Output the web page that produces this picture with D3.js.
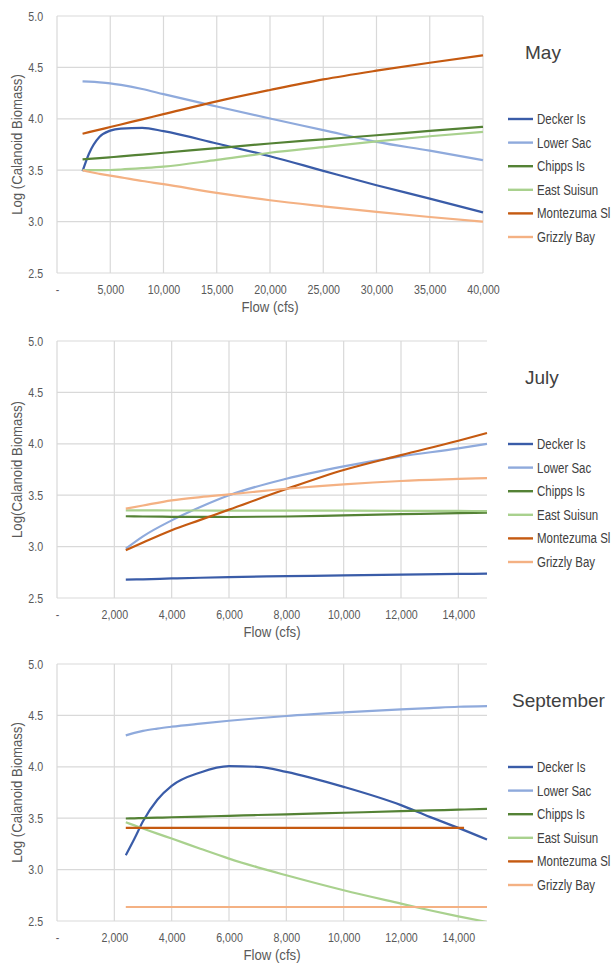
<!DOCTYPE html>
<html>
<head>
<meta charset="utf-8">
<script src="https://cdn.jsdelivr.net/npm/d3@7"></script>
<style>
  body { margin: 0; background: #fff; }
  svg text { font-family: "Liberation Sans", Arial, sans-serif; }
</style>
</head>
<body>
<div id="chart"></div>
<script>
// series names and colours (legend order)
var seriesNames = ["Decker Is", "Lower Sac", "Chipps Is", "East Suisun", "Montezuma Sl", "Grizzly Bay"];
var seriesColors = ["#3a5ca8", "#8faadc", "#548235", "#a9d18e", "#c55a11", "#f4b183"];

var yTicks = [2.5, 3.0, 3.5, 4.0, 4.5, 5.0];

// ---- May ----
var mayTicks = [0, 5000, 10000, 15000, 20000, 25000, 30000, 35000, 40000];
var mayFlow = [2400, 3000, 4000, 5000, 6000, 8000, 10000, 15000, 20000, 25000, 30000, 35000, 40000];
var mayDecker = [3.49, 3.66, 3.825, 3.885, 3.905, 3.912, 3.88, 3.76, 3.636, 3.494, 3.354, 3.224, 3.09];
var mayLowerSac = [4.365, 4.362, 4.355, 4.345, 4.33, 4.29, 4.24, 4.12, 4.003, 3.89, 3.776, 3.69, 3.597];
var mayChipps = [3.605, 3.61, 3.618, 3.626, 3.634, 3.652, 3.67, 3.715, 3.76, 3.8, 3.84, 3.882, 3.922];
var mayEastSuisun = [3.5, 3.5, 3.5, 3.502, 3.507, 3.52, 3.535, 3.6, 3.67, 3.725, 3.78, 3.83, 3.872];
var mayMontezuma = [3.855, 3.87, 3.895, 3.92, 3.945, 3.995, 4.045, 4.17, 4.28, 4.383, 4.468, 4.545, 4.617];
var mayGrizzly = [3.5, 3.485, 3.465, 3.447, 3.43, 3.395, 3.364, 3.279, 3.208, 3.149, 3.094, 3.045, 3.0];

// ---- July ----
var julTicks = [0, 2000, 4000, 6000, 8000, 10000, 12000, 14000];
var julFlow = [2400, 3000, 4000, 5000, 6000, 8000, 10000, 12000, 14000, 15000];
var julDecker = [2.678, 2.682, 2.69, 2.697, 2.704, 2.712, 2.72, 2.727, 2.734, 2.737];
var julLowerSac = [2.98, 3.1, 3.255, 3.385, 3.499, 3.66, 3.78, 3.878, 3.955, 4.0];
var julChipps = [3.295, 3.293, 3.29, 3.289, 3.288, 3.293, 3.304, 3.315, 3.326, 3.33];
var julEastSuisun = [3.352, 3.352, 3.351, 3.351, 3.35, 3.35, 3.349, 3.348, 3.347, 3.346];
var julMontezuma = [2.964, 3.04, 3.16, 3.26, 3.36, 3.56, 3.745, 3.89, 4.03, 4.105];
var julGrizzly = [3.369, 3.4, 3.45, 3.482, 3.508, 3.563, 3.606, 3.638, 3.658, 3.667];

// ---- September ----
var sepTicks = [0, 2000, 4000, 6000, 8000, 10000, 12000, 14000];
var sepFlow = [2400, 2700, 3000, 3500, 4000, 5000, 6000, 7000, 8000, 10000, 12000, 13000, 14000, 15000];
var sepDecker = [3.14, 3.3, 3.47, 3.68, 3.815, 3.945, 4.006, 4.0, 3.951, 3.805, 3.627, 3.513, 3.406, 3.292];
var sepLowerSac = [4.305, 4.33, 4.35, 4.372, 4.39, 4.42, 4.448, 4.472, 4.494, 4.529, 4.558, 4.571, 4.584, 4.591];
var sepChipps = [3.497, 3.499, 3.501, 3.505, 3.509, 3.516, 3.523, 3.531, 3.538, 3.553, 3.568, 3.576, 3.583, 3.591];
var sepEastSuisun = [3.46, 3.43, 3.4, 3.35, 3.302, 3.203, 3.107, 3.022, 2.945, 2.799, 2.669, 2.605, 2.545, 2.49];
var sepMontezumaFlow = [2400, 14200];
var sepMontezuma = [3.406, 3.406];
var sepGrizzlyFlow = [2400, 15000];
var sepGrizzly = [2.636, 2.636];

var panels = [
  { title: "May", titleX: 525, yLabel: "Log  (Calanoid Biomass)", top: 16, right: 483, xMax: 40000, ticks: mayTicks,
    series: [[mayFlow, mayDecker], [mayFlow, mayLowerSac], [mayFlow, mayChipps], [mayFlow, mayEastSuisun], [mayFlow, mayMontezuma], [mayFlow, mayGrizzly]] },
  { title: "July", titleX: 525, yLabel: "Log(Calanoid Biomass)", top: 341, right: 487, xMax: 15000, ticks: julTicks,
    series: [[julFlow, julDecker], [julFlow, julLowerSac], [julFlow, julChipps], [julFlow, julEastSuisun], [julFlow, julMontezuma], [julFlow, julGrizzly]] },
  { title: "September", titleX: 512, yLabel: "Log  (Calanoid Biomass)", top: 664, right: 487, xMax: 15000, ticks: sepTicks,
    series: [[sepFlow, sepDecker], [sepFlow, sepLowerSac], [sepFlow, sepChipps], [sepFlow, sepEastSuisun], [sepMontezumaFlow, sepMontezuma], [sepGrizzlyFlow, sepGrizzly]] }
];

var svgWidth = 612, svgHeight = 965;
var plotLeft = 57, plotHeight = 257;
var gridColor = "#d9d9d9";
// squeeze text horizontally to mimic the narrow office font
var narrow = 0.82;

var svg = d3.select("#chart").append("svg")
  .attr("width", svgWidth)
  .attr("height", svgHeight);

var fmt = d3.format(",");

panels.forEach(function(p, i) {
  var bottom = p.top + plotHeight;
  var x = d3.scaleLinear().domain([0, p.xMax]).range([plotLeft, p.right]);
  var y = d3.scaleLinear().domain([2.5, 5.0]).range([bottom, p.top]);

  var g = svg.append("g");

  // gridlines
  g.append("g").selectAll("line")
    .data(yTicks)
    .enter().append("line")
    .attr("x1", plotLeft).attr("x2", p.right)
    .attr("y1", d => y(d)).attr("y2", d => y(d))
    .attr("stroke", gridColor).attr("stroke-width", 1.2);

  g.append("g").selectAll("line")
    .data(p.ticks)
    .enter().append("line")
    .attr("x1", d => x(d)).attr("x2", d => x(d))
    .attr("y1", p.top).attr("y2", bottom)
    .attr("stroke", gridColor).attr("stroke-width", 1.2);

  // axes (labels only, lines come from the grid)
  var bottomAxis = d3.axisBottom(x).tickValues(p.ticks).tickSize(0).tickPadding(12)
    .tickFormat(d => d === 0 ? "-" : fmt(d));
  var leftAxis = d3.axisLeft(y).tickValues(yTicks).tickSize(0).tickPadding(17)
    .tickFormat(d3.format(".1f"));

  var xa = g.append("g").attr("transform", `translate(0, ${bottom})`).call(bottomAxis);
  var ya = g.append("g").attr("transform", `translate(${plotLeft}, 0)`).call(leftAxis);
  [xa, ya].forEach(function(a) {
    a.select(".domain").remove();
    a.selectAll("text")
      .attr("font-size", "13px")
      .attr("fill", "#595959")
      .attr("transform", `scale(${narrow},1)`)
      .style("font-family", "'Liberation Sans', Arial, sans-serif");
  });

  // clip for lines
  var clipId = "clip" + i;
  svg.append("clipPath").attr("id", clipId)
    .append("rect")
    .attr("x", plotLeft).attr("y", p.top - 2)
    .attr("width", p.right - plotLeft + 2).attr("height", plotHeight + 2);

  var line = d3.line()
    .x(d => x(d[0]))
    .y(d => y(d[1]))
    .curve(d3.curveMonotoneX);

  g.append("g").attr("clip-path", `url(#${clipId})`)
    .selectAll("path")
    .data(p.series)
    .enter().append("path")
    .attr("d", s => line(d3.zip(s[0], s[1])))
    .attr("fill", "none")
    .attr("stroke", (s, j) => seriesColors[j])
    .attr("stroke-width", 2.2);

  // axis titles
  g.append("text")
    .attr("transform", `translate(22, ${(p.top + bottom) / 2}) rotate(-90) scale(0.88,1)`)
    .attr("text-anchor", "middle")
    .attr("font-size", "15px")
    .attr("fill", "#595959")
    .text(p.yLabel);

  g.append("text")
    .attr("transform", `translate(${(plotLeft + p.right) / 2}, ${bottom + 39}) scale(0.88,1)`)
    .attr("text-anchor", "middle")
    .attr("font-size", "15px")
    .attr("fill", "#595959")
    .text("Flow (cfs)");

  // month title
  g.append("text")
    .attr("x", p.titleX)
    .attr("y", p.top + 43)
    .attr("font-size", "19px")
    .attr("fill", "#404040")
    .text(p.title);

  // legend
  var legend = g.append("g").selectAll("g")
    .data(seriesNames)
    .enter().append("g")
    .attr("transform", (d, j) => `translate(508, ${p.top + 103 + j * 23.6})`);

  legend.append("line")
    .attr("x1", 0).attr("x2", 25)
    .attr("stroke", (d, j) => seriesColors[j])
    .attr("stroke-width", 2.4);

  legend.append("text")
    .attr("transform", `translate(29, 0) scale(${narrow},1)`)
    .attr("dy", "0.35em")
    .attr("font-size", "14px")
    .attr("fill", "#404040")
    .text(d => d);
});
</script>
</body>
</html>
